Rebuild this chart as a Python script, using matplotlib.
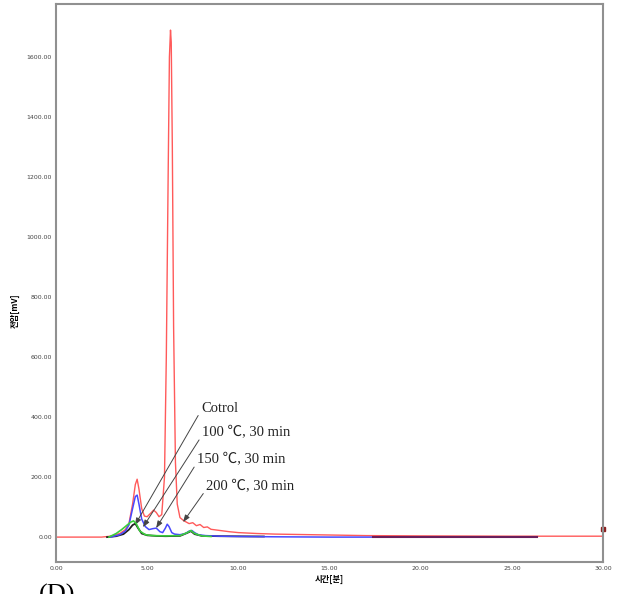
import numpy as np
import matplotlib
matplotlib.use('Agg')
import matplotlib.pyplot as plt

# Chromatogram traces (time in min, signal in mV)
ctrl_t = [0, 2.5, 3.0, 3.5, 3.8, 4.0, 4.2, 4.35, 4.45, 4.55, 4.7, 4.85, 5.0, 5.2, 5.35,
          5.5, 5.65, 5.8, 5.95, 6.05, 6.15, 6.22, 6.28, 6.32, 6.38, 6.45, 6.55, 6.65,
          6.8, 7.0, 7.3, 7.5, 7.7, 7.9, 8.1, 8.3, 8.5, 9.0, 9.5, 10, 11, 12, 13, 14, 15, 17, 20, 25, 30]
ctrl_v = [0, 0, 3, 12, 25, 45, 110, 175, 193, 160, 95, 70, 68, 80, 90,
          82, 68, 75, 200, 600, 1200, 1600, 1690, 1650, 1300, 700, 250, 110,
          65, 55, 45, 48, 38, 42, 32, 34, 26, 22, 18, 15, 12, 10, 9, 8, 7, 5, 4, 3, 3]

t100_t = [3.0, 3.5, 3.8, 4.0, 4.2, 4.35, 4.45, 4.55, 4.7, 4.9, 5.1, 5.3, 5.5, 5.7, 5.85,
          6.0, 6.1, 6.2, 6.35, 6.5, 6.8, 7.1, 7.3, 7.45, 7.6, 7.8, 8.2, 9, 10, 12, 15, 17.4]
t100_v = [0, 8, 20, 40, 95, 135, 140, 110, 60, 35, 25, 28, 30, 18, 15,
          30, 43, 35, 15, 10, 8, 12, 20, 22, 15, 8, 5, 3, 2, 1, 0, 0]

t150_t = [2.9, 3.3, 3.6, 3.9, 4.1, 4.25, 4.4, 4.6, 4.9, 5.3, 6.0, 6.8, 7.2, 7.4, 7.6, 8.0, 8.5]
t150_v = [0, 12, 25, 40, 50, 54, 45, 20, 8, 5, 4, 5, 15, 22, 12, 4, 2]

t200_t = [2.8, 3.3, 3.7, 4.0, 4.2, 4.35, 4.5, 4.7, 5.0, 5.5, 6.0, 6.8, 7.2, 7.4, 7.6, 8.0, 9.0, 11.4]
t200_v = [0, 3, 10, 25, 40, 45, 30, 12, 6, 4, 3, 4, 14, 20, 10, 4, 3, 2]

tail_t = [17.4, 26.4]
tail_v = [2, 2]

# annotation labels and where their arrows land
labels = ['Cotrol', '100 ℃, 30 min', '150 ℃, 30 min', '200 ℃, 30 min']
label_xy = [(7.95, 430), (8.0, 347), (7.73, 257), (8.23, 167)]
arrow_xy = [(4.33, 40), (4.77, 33), (5.49, 30), (6.97, 50)]

xticks = [0, 5, 10, 15, 20, 25, 30]
yticks = [0, 200, 400, 600, 800, 1000, 1200, 1400, 1600]

fig = plt.figure(figsize=(6.19, 5.94), dpi=100)
ax = fig.add_axes([56/619, 1 - 562/594, (603 - 56)/619, (562 - 4)/594])

ax.plot(ctrl_t, ctrl_v, color='#ff5a5a', lw=1.0, zorder=2)
ax.plot(t200_t, t200_v, color='#202020', lw=1.3, zorder=3)
ax.plot(t150_t, t150_v, color='#3ccf3c', lw=1.2, zorder=4)
ax.plot(t100_t, t100_v, color='#4848ff', lw=1.1, zorder=3)
ax.plot(tail_t, tail_v, color='#6a1f5c', lw=1.5, zorder=3)
ax.plot([30], [27], marker='s', ms=2.5, color='#8b2020', clip_on=False)

ax.set_xlim(0, 30)
ax.set_ylim(-83, 1777)
ax.set_xticks(xticks)
ax.set_yticks(yticks)
ax.set_xticklabels(['%.2f' % v for v in xticks])
ax.set_yticklabels(['%.2f' % v for v in yticks])
ax.tick_params(length=0, labelsize=4.5, labelcolor='#444444', pad=3)

for s in ax.spines.values():
	s.set_color('#909090')
	s.set_linewidth(1.5)

kr = ['Noto Sans CJK KR', 'DejaVu Sans']
ax.set_ylabel('전압[mV]', family=kr, fontsize=6, fontweight='bold')
ax.yaxis.set_label_coords(-0.066, 0.45)
ax.set_xlabel('시간[분]', family=kr, fontsize=6, fontweight='bold', labelpad=3)

serif = ['Liberation Serif', 'Noto Sans CJK KR']
for lab, txy, axy in zip(labels, label_xy, arrow_xy):
	ax.annotate(lab, xy=axy, xytext=txy, family=serif, fontsize=10.5,
		va='center', ha='left', color='#222222',
		arrowprops=dict(arrowstyle='-|>,head_length=0.4,head_width=0.15',
			color='#444444', lw=0.7, relpos=(0, 0.3), shrinkA=0, shrinkB=0))

# panel letter, partly below the bottom edge as in the original figure
fig.text(0.062, -0.012, '(D)', family='Liberation Serif', fontsize=19, va='baseline')

fig.savefig('out.png', dpi=100)
